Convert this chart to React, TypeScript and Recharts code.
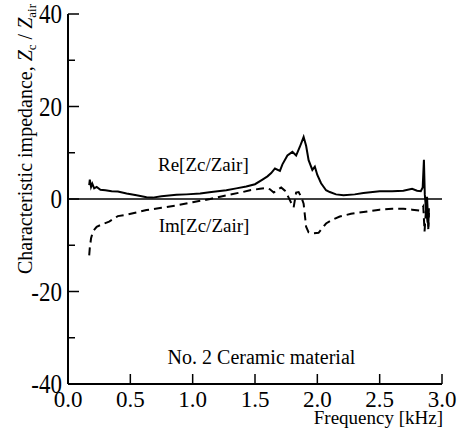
import React from "react";
import {
  LineChart,
  Line,
  XAxis,
  YAxis,
  ReferenceLine,
  ReferenceDot,
} from "recharts";

const FONT = '"Liberation Serif", Tinos, "Times New Roman", "DejaVu Serif", serif';

// Re[Zc/Zair]
const reFreq = [
  0.17, 0.175, 0.185, 0.195, 0.21, 0.23, 0.26, 0.3, 0.35, 0.4, 0.47, 0.55,
  0.63, 0.68, 0.75, 0.87, 0.95, 1.06, 1.15, 1.27, 1.35, 1.43, 1.5, 1.56, 1.6,
  1.63, 1.66, 1.7, 1.72, 1.76, 1.8, 1.83, 1.86, 1.89, 1.91, 1.93, 1.96, 1.98,
  2.0, 2.03, 2.07, 2.1, 2.15, 2.21, 2.3, 2.37, 2.5, 2.6, 2.69, 2.76, 2.8,
  2.83, 2.845, 2.855, 2.862, 2.868, 2.875, 2.88, 2.885, 2.89, 2.895,
];
const reValue = [
  3.0, 4.2, 2.6, 3.3, 2.3, 2.6, 2.0, 1.9, 1.7, 1.6, 1.2, 0.8, 0.4, 0.3, 0.6,
  0.9, 1.0, 1.2, 1.5, 1.9, 2.3, 2.7, 3.2, 4.2, 4.9, 5.6, 6.6, 6.1, 7.5, 9.4,
  10.2, 9.4, 11.3, 13.4, 11.5, 8.4, 6.3, 7.0, 5.2, 3.4, 1.9, 1.5, 1.0, 0.8,
  1.0, 1.3, 1.7, 1.7, 1.8, 2.2, 1.8, 1.7, 2.5, 8.5, 1.0, -1.0, -3.5, 0.5,
  -2.5, -6.0, -2.0,
];

// Im[Zc/Zair]
const imFreq = [
  0.17, 0.175, 0.185, 0.2, 0.23, 0.28, 0.33, 0.4, 0.47, 0.55, 0.63, 0.75,
  0.87, 1.0, 1.14, 1.27, 1.4, 1.46, 1.54, 1.59, 1.62, 1.65, 1.68, 1.71, 1.74,
  1.77, 1.79, 1.81, 1.83, 1.85, 1.87, 1.89, 1.91, 1.93, 1.97, 2.01, 2.04,
  2.07, 2.12, 2.18, 2.27, 2.37, 2.5, 2.6, 2.69, 2.76, 2.82, 2.84, 2.85, 2.86,
  2.87, 2.875, 2.88, 2.89, 2.895,
];
const imValue = [
  -12.2, -10.5, -8.5, -7.0, -6.0, -5.4, -4.9, -3.7, -3.4, -2.9, -2.4, -1.9,
  -1.4, -0.7, 0.0, 0.8, 1.5, 1.9, 2.2, 2.4, 2.1, 1.4, 2.0, 2.5, 1.8, 0.3, -0.8,
  -1.8, 1.4, 1.5, 0.5, -1.0, -6.0, -7.2, -7.4, -7.3, -6.3, -5.3, -4.5, -3.8,
  -3.2, -2.8, -2.3, -2.1, -2.1, -2.3, -2.5, -2.0, -1.6, -7.0, -3.0, 0.4, -4.0,
  -6.5, -3.0,
];

const xTicks = [0, 0.5, 1, 1.5, 2, 2.5, 3];
const yTicks = [-40, -30, -20, -10, 0, 10, 20, 30, 40];
const yLabelTicks = [-40, -20, 0, 20, 40];

const reData = reFreq.map((f, i) => ({ f, v: reValue[i] }));
const imData = imFreq.map((f, i) => ({ f, v: imValue[i] }));

const txt = { fontFamily: FONT, fill: "#000" };

const LeftTick = ({ x, y, payload }: any) => {
  const major = yLabelTicks.includes(payload.value);
  return (
    <g>
      <line x1={x} x2={x + (major ? 11 : 7)} y1={y} y2={y} stroke="#000" strokeWidth={1.5} />
      {major && (
        // the y labels in the original look taller than they are wide
        <g transform={`translate(${x - 6}, ${y + 9}) scale(1, 1.18)`}>
          <text x={0} y={0} textAnchor="end" fontSize={23} style={txt}>
            {payload.value}
          </text>
        </g>
      )}
    </g>
  );
};

const RightTick = ({ x, y, payload }: any) => {
  const major = yLabelTicks.includes(payload.value);
  return <line x1={x} x2={x - (major ? 11 : 7)} y1={y} y2={y} stroke="#000" strokeWidth={1.5} />;
};

const BottomTick = ({ x, y, payload }: any) => (
  <g>
    <line x1={x} x2={x} y1={y} y2={y - 10} stroke="#000" strokeWidth={1.5} />
    <text x={x} y={y + 23} textAnchor="middle" fontSize={23} style={txt}>
      {payload.value.toFixed(1)}
    </text>
  </g>
);

const TopTick = ({ x, y }: any) => (
  <line x1={x} x2={x} y1={y} y2={y + 9} stroke="#000" strokeWidth={1.5} />
);

const YTitle = ({ viewBox }: any) => {
  const x = viewBox.x + 32;
  const y = viewBox.y + 125;
  return (
    <text
      x={x}
      y={y}
      transform={`rotate(-90, ${x}, ${y})`}
      textAnchor="middle"
      fontSize={20}
      style={txt}
    >
      Characteristic impedance,{" "}
      <tspan fontStyle="italic">Z</tspan>
      <tspan fontSize={13} dy={4}>c</tspan>
      <tspan dy={-4}> / </tspan>
      <tspan fontStyle="italic">Z</tspan>
      <tspan fontSize={13} dy={4}>air</tspan>
    </text>
  );
};

const XTitle = ({ viewBox }: any) => (
  <text
    x={viewBox.x + viewBox.width + 1}
    y={viewBox.y + 40}
    textAnchor="end"
    fontSize={19}
    style={txt}
  >
    Frequency [kHz]
  </text>
);

const note = (text: string, size: number, anchor: string) => ({ viewBox }: any) => (
  <text x={viewBox.x} y={viewBox.y} textAnchor={anchor} fontSize={size} style={txt}>
    {text}
  </text>
);

export default function App() {
  return (
    <div style={{ position: "absolute", left: 0, top: 0, background: "#fff" }}>
      <LineChart width={463} height={428} margin={{ top: 14, right: 21, bottom: 0, left: 0 }}>
        <XAxis
          dataKey="f"
          type="number"
          domain={[0, 3]}
          ticks={xTicks}
          height={44}
          tickLine={false}
          tickSize={0}
          tickMargin={0}
          tick={<BottomTick />}
          axisLine={{ stroke: "#000", strokeWidth: 2 }}
          interval={0}
          allowDataOverflow
          label={XTitle}
        />
        <XAxis
          xAxisId="t"
          orientation="top"
          dataKey="f"
          type="number"
          domain={[0, 3]}
          ticks={xTicks}
          height={0}
          tickLine={false}
          tickSize={0}
          tickMargin={0}
          tick={<TopTick />}
          axisLine={{ stroke: "#000", strokeWidth: 2 }}
          interval={0}
          allowDataOverflow
        />
        <YAxis
          type="number"
          domain={[-40, 40]}
          ticks={yTicks}
          width={68}
          tickLine={false}
          tickSize={0}
          tickMargin={0}
          tick={<LeftTick />}
          axisLine={{ stroke: "#000", strokeWidth: 2 }}
          interval={0}
          allowDataOverflow
          label={YTitle}
        />
        <YAxis
          yAxisId="r"
          orientation="right"
          type="number"
          domain={[-40, 40]}
          ticks={yTicks}
          width={0}
          tickLine={false}
          tickSize={0}
          tickMargin={0}
          tick={<RightTick />}
          axisLine={{ stroke: "#000", strokeWidth: 2 }}
          interval={0}
          allowDataOverflow
        />
        <ReferenceLine y={0} stroke="#000" strokeWidth={1.5} />
        <Line
          data={reData}
          dataKey="v"
          type="linear"
          stroke="#000"
          strokeWidth={2}
          dot={false}
          isAnimationActive={false}
        />
        <Line
          data={imData}
          dataKey="v"
          type="linear"
          stroke="#000"
          strokeWidth={2}
          strokeDasharray="8 5"
          dot={false}
          isAnimationActive={false}
        />
        <ReferenceDot x={0.73} y={5.85} r={1} fill="none" stroke="none" label={note("Re[Zc/Zair]", 19, "start")} />
        <ReferenceDot x={0.735} y={-7.35} r={1} fill="none" stroke="none" label={note("Im[Zc/Zair]", 19, "start")} />
        <ReferenceDot x={1.56} y={-35.9} r={1} fill="none" stroke="none" label={note("No. 2 Ceramic material", 20, "middle")} />
      </LineChart>
    </div>
  );
}
